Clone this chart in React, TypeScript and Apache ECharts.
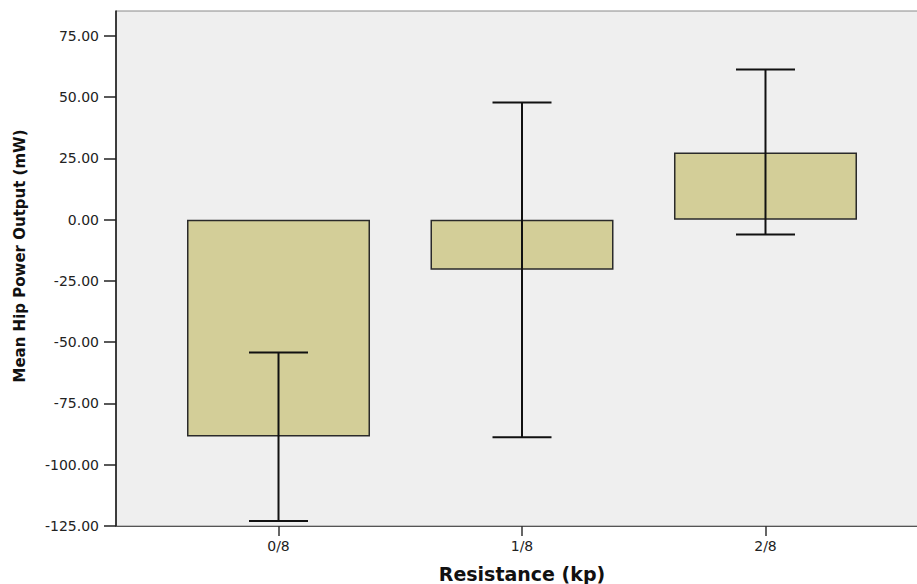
import React, { useEffect, useRef } from "react";
import * as echarts from "echarts";

// Resistance levels and their hip power summary (mean with 95% CI bounds)
const categories = ["0/8", "1/8", "2/8"];
const meanValues = [-88.5, -20.4, 27.4];
const ciLower = [-123.0, -88.8, -6.0];
const ciUpper = [-54.2, 47.9, 61.3];
const yTickValues = [-125, -100, -75, -50, -25, 0, 25, 50, 75];

const FONT = "DejaVu Sans";

export default function App() {
  const ref = useRef<HTMLDivElement>(null);

  useEffect(() => {
    if (!ref.current) return;
    const chart = echarts.init(ref.current, null, { renderer: "svg" });

    const positions = categories.map((_, i) => i);
    const barData = meanValues.map((v, i) => [positions[i], v]);
    const errData = categories.map((_, i) => [positions[i], ciLower[i], ciUpper[i]]);

    chart.setOption({
      animation: false,
      backgroundColor: "#ffffff",
      grid: {
        left: 116,
        right: -11,
        top: 11,
        bottom: 58,
        outerBoundsMode: "none",
        containLabel: false,
        show: true,
        backgroundColor: "#EFEFEF",
        borderColor: "#8a8a8a",
        borderWidth: 1,
      },
      xAxis: {
        type: "value",
        min: -0.6674,
        max: 2.6674,
        splitLine: { show: false },
        axisLine: { show: true, onZero: false, lineStyle: { color: "#555555", width: 1 } },
        axisTick: {
          show: true,
          customValues: positions,
          length: 10,
          lineStyle: { color: "#333333", width: 1.5 },
        },
        axisLabel: {
          customValues: positions,
          formatter: (v: number) => categories[Math.round(v)] ?? "",
          fontFamily: FONT,
          fontSize: 14,
          color: "#222222",
          margin: 13,
        },
        name: "Resistance (kp)",
        nameLocation: "middle",
        nameGap: 38,
        nameTextStyle: {
          fontFamily: FONT,
          fontWeight: "bold",
          fontSize: 19,
          color: "#111111",
        },
      },
      yAxis: {
        type: "value",
        min: -125,
        max: 85.2,
        splitLine: { show: false },
        axisLine: { show: true, onZero: false, lineStyle: { color: "#111111", width: 1.5 } },
        axisTick: {
          show: true,
          customValues: yTickValues,
          length: 12,
          lineStyle: { color: "#222222", width: 1.5 },
        },
        axisLabel: {
          customValues: yTickValues,
          formatter: (v: number) => v.toFixed(2),
          fontFamily: FONT,
          fontSize: 14,
          color: "#222222",
          margin: 17,
        },
      },
      graphic: [
        {
          type: "text",
          x: 20,
          y: 256,
          rotation: Math.PI / 2,
          style: {
            text: "Mean Hip Power Output (mW)",
            fontFamily: FONT,
            fontWeight: "bold",
            fontSize: 15,
            fill: "#111111",
            align: "center",
            verticalAlign: "middle",
          },
        },
      ],
      series: [
        {
          type: "bar",
          data: barData,
          barWidth: 183,
          itemStyle: {
            color: "#D3CE98",
            borderColor: "#2a2a2a",
            borderWidth: 1.5,
          },
          z: 2,
        },
        {
          type: "custom",
          data: errData,
          z: 3,
          renderItem: (params: any, api: any) => {
            const x = api.value(0);
            const lo = api.coord([x, api.value(1)]);
            const hi = api.coord([x, api.value(2)]);
            const half = 29.5;
            const style = { stroke: "#111111", lineWidth: 2 };
            return {
              type: "group",
              children: [
                { type: "line", shape: { x1: hi[0], y1: hi[1], x2: lo[0], y2: lo[1] }, style },
                { type: "line", shape: { x1: hi[0] - half, y1: hi[1], x2: hi[0] + half, y2: hi[1] }, style },
                { type: "line", shape: { x1: lo[0] - half, y1: lo[1], x2: lo[0] + half, y2: lo[1] }, style },
              ],
            };
          },
        },
      ],
    });

    return () => chart.dispose();
  }, []);

  return (
    <div
      ref={ref}
      style={{ position: "absolute", left: 0, top: 0, width: 917, height: 584, background: "#ffffff" }}
    />
  );
}
